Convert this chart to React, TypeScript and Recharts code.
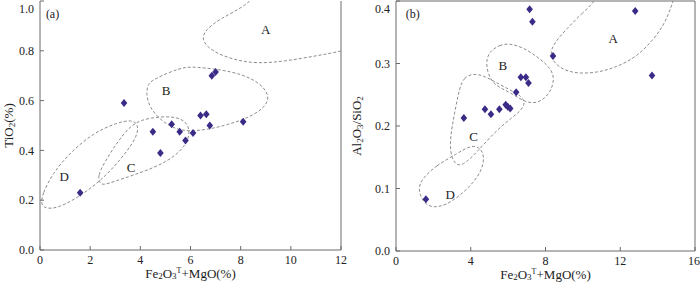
import React from 'react';
import { ComposedChart, Scatter, Line, XAxis, YAxis, ReferenceLine, ReferenceDot } from 'recharts';

// (a) TiO2 vs Fe2O3T+MgO
const tiSamples = [
  { x: 1.6, y: 0.23 }, { x: 3.35, y: 0.59 }, { x: 4.5, y: 0.475 }, { x: 4.8, y: 0.39 },
  { x: 5.25, y: 0.505 }, { x: 5.57, y: 0.475 }, { x: 5.8, y: 0.44 }, { x: 6.1, y: 0.47 },
  { x: 6.4, y: 0.54 }, { x: 6.63, y: 0.545 }, { x: 6.77, y: 0.5 }, { x: 6.85, y: 0.7 },
  { x: 7.0, y: 0.715 }, { x: 8.1, y: 0.515 },
];

// (b) Al2O3/SiO2 vs Fe2O3T+MgO
const alSamples = [
  { x: 1.6, y: 0.083 }, { x: 3.63, y: 0.213 }, { x: 4.76, y: 0.227 }, { x: 5.08, y: 0.219 },
  { x: 5.53, y: 0.227 }, { x: 5.87, y: 0.234 }, { x: 5.98, y: 0.231 }, { x: 6.11, y: 0.228 },
  { x: 6.43, y: 0.254 }, { x: 6.68, y: 0.278 }, { x: 6.95, y: 0.278 }, { x: 7.09, y: 0.269 },
  { x: 7.15, y: 0.387 }, { x: 7.3, y: 0.367 }, { x: 8.4, y: 0.312 }, { x: 12.8, y: 0.384 },
  { x: 13.7, y: 0.281 },
];

// field outlines, panel (a)
const tiFieldA = [
  { x: 13.0, y: 0.83 }, { x: 12.0, y: 0.797 }, { x: 11.0, y: 0.78 }, { x: 9.8, y: 0.758 },
  { x: 8.6, y: 0.748 }, { x: 7.7, y: 0.765 }, { x: 6.9, y: 0.795 }, { x: 6.42, y: 0.842 },
  { x: 6.6, y: 0.885 }, { x: 7.2, y: 0.93 }, { x: 8.2, y: 0.98 }, { x: 8.9, y: 1.05 },
  { x: 10, y: 1.2 }, { x: 13.5, y: 1.2 },
];
const tiFieldB = [
  { x: 4.47, y: 0.684 }, { x: 5.6, y: 0.733 }, { x: 6.13, y: 0.737 }, { x: 7.73, y: 0.718 },
  { x: 8.7, y: 0.678 }, { x: 9.18, y: 0.621 }, { x: 8.97, y: 0.571 }, { x: 8.27, y: 0.529 },
  { x: 7.47, y: 0.503 }, { x: 6.67, y: 0.483 }, { x: 5.87, y: 0.476 }, { x: 5.3, y: 0.489 },
  { x: 4.77, y: 0.525 }, { x: 4.36, y: 0.574 }, { x: 4.23, y: 0.628 }, { x: 4.3, y: 0.663 },
];
const tiFieldC = [
  { x: 2.38, y: 0.268 }, { x: 2.3, y: 0.298 }, { x: 2.58, y: 0.354 }, { x: 3.05, y: 0.428 },
  { x: 3.52, y: 0.49 }, { x: 4.0, y: 0.524 }, { x: 4.93, y: 0.538 }, { x: 5.62, y: 0.531 },
  { x: 5.93, y: 0.5 }, { x: 5.96, y: 0.458 }, { x: 5.76, y: 0.416 }, { x: 5.35, y: 0.375 },
  { x: 4.67, y: 0.335 }, { x: 3.73, y: 0.301 }, { x: 2.93, y: 0.274 }, { x: 2.53, y: 0.261 },
];
const tiFieldD = [
  { x: 0.03, y: 0.182 }, { x: 0.1, y: 0.226 }, { x: 0.5, y: 0.307 }, { x: 1.18, y: 0.389 },
  { x: 2.12, y: 0.47 }, { x: 3.06, y: 0.511 }, { x: 3.68, y: 0.524 }, { x: 3.93, y: 0.501 },
  { x: 3.87, y: 0.458 }, { x: 3.48, y: 0.397 }, { x: 2.8, y: 0.316 }, { x: 2.13, y: 0.255 },
  { x: 1.33, y: 0.2 }, { x: 0.67, y: 0.168 }, { x: 0.25, y: 0.166 },
];

// field outlines, panel (b)
const alFieldA = [
  { x: 10.82, y: 0.403 }, { x: 10.0, y: 0.382 }, { x: 9.12, y: 0.355 }, { x: 8.47, y: 0.333 },
  { x: 8.24, y: 0.317 }, { x: 8.42, y: 0.302 }, { x: 8.94, y: 0.29 }, { x: 9.66, y: 0.284 },
  { x: 10.73, y: 0.285 }, { x: 11.8, y: 0.294 }, { x: 12.9, y: 0.311 }, { x: 13.8, y: 0.339 },
  { x: 14.43, y: 0.366 }, { x: 14.88, y: 0.403 }, { x: 15.3, y: 0.45 }, { x: 11.2, y: 0.45 },
];
const alFieldB = [
  { x: 5.0, y: 0.319 }, { x: 5.55, y: 0.33 }, { x: 6.08, y: 0.332 }, { x: 6.8, y: 0.326 },
  { x: 7.7, y: 0.308 }, { x: 8.32, y: 0.291 }, { x: 8.48, y: 0.274 }, { x: 8.26, y: 0.254 },
  { x: 7.8, y: 0.24 }, { x: 7.33, y: 0.236 }, { x: 6.8, y: 0.24 }, { x: 6.26, y: 0.251 },
  { x: 5.64, y: 0.26 }, { x: 5.13, y: 0.27 }, { x: 4.88, y: 0.288 }, { x: 4.83, y: 0.305 },
];
const alFieldC = [
  { x: 4.12, y: 0.284 }, { x: 3.65, y: 0.278 }, { x: 3.41, y: 0.262 }, { x: 3.2, y: 0.231 },
  { x: 3.0, y: 0.199 }, { x: 2.88, y: 0.172 }, { x: 2.97, y: 0.148 }, { x: 3.31, y: 0.135 },
  { x: 3.74, y: 0.141 }, { x: 4.32, y: 0.158 }, { x: 5.03, y: 0.182 }, { x: 5.83, y: 0.205 },
  { x: 6.56, y: 0.221 }, { x: 6.94, y: 0.235 }, { x: 6.73, y: 0.248 }, { x: 6.08, y: 0.258 },
  { x: 5.28, y: 0.271 }, { x: 4.65, y: 0.281 },
];
const alFieldD = [
  { x: 1.33, y: 0.114 }, { x: 2.15, y: 0.137 }, { x: 3.23, y: 0.155 }, { x: 4.03, y: 0.17 },
  { x: 4.54, y: 0.165 }, { x: 4.73, y: 0.15 }, { x: 4.6, y: 0.13 }, { x: 4.14, y: 0.109 },
  { x: 3.4, y: 0.088 }, { x: 2.69, y: 0.074 }, { x: 2.06, y: 0.069 }, { x: 1.5, y: 0.075 },
  { x: 1.18, y: 0.097 },
];

const tiRegionLabels = [
  { x: 9.0, y: 0.887, text: 'A' }, { x: 5.03, y: 0.641, text: 'B' },
  { x: 3.63, y: 0.332, text: 'C' }, { x: 0.96, y: 0.294, text: 'D' },
];
const alRegionLabels = [
  { x: 11.62, y: 0.34, text: 'A' }, { x: 5.72, y: 0.297, text: 'B' },
  { x: 4.15, y: 0.184, text: 'C' }, { x: 2.9, y: 0.09, text: 'D' },
];

const tiXTicks = [0, 2, 4, 6, 8, 10, 12];
const tiYTicks = [0, 0.2, 0.4, 0.6, 0.8, 1.0];
const alXTicks = [0, 4, 8, 12, 16];
const alYTicks = [0, 0.1, 0.2, 0.3, 0.4];

const FONT = '"Liberation Serif", "DejaVu Serif", serif';
const AXIS = '#6a6a6a';
const FIELD = '#8c8c8c';
const DOT = '#3b2a86';

const Diamond = (props: any) => {
  const { cx, cy } = props;
  if (cx == null || cy == null) return null;
  return <polygon points={`${cx},${cy - 4} ${cx + 3.3},${cy} ${cx},${cy + 4} ${cx - 3.3},${cy}`} fill={DOT} />;
};

const YTick = (props: any) => {
  const { x, y, payload } = props;
  const yy = Math.max(y, 6);
  return (
    <text x={x} y={yy} dy="0.35em" textAnchor="end" fontSize={12} fontFamily={FONT} fill="#222">
      {Number(payload.value).toFixed(1)}
    </text>
  );
};

const XTitle = ({ viewBox }: any) => {
  const { x, y, width } = viewBox;
  return (
    <text x={x + width / 2} y={y + 28} textAnchor="middle" fontSize={13} fontFamily={FONT} fill="#222">
      Fe<tspan fontSize={9} dy={1}>2</tspan>
      <tspan dy={-1}>O</tspan>
      <tspan fontSize={9} dy={1}>3</tspan>
      <tspan fontSize={8} dy={-6}>T</tspan>
      <tspan dy={5}>+MgO(%)</tspan>
    </text>
  );
};

const TiTitle = ({ viewBox }: any) => {
  const { y, height } = viewBox;
  const cx = 8;
  const cy = y + height / 2;
  return (
    <text x={cx} y={cy} transform={`rotate(-90, ${cx}, ${cy})`} textAnchor="middle" dy="0.35em" fontSize={13} fontFamily={FONT} fill="#222">
      TiO<tspan fontSize={9} dy={2}>2</tspan>
      <tspan dy={-2}>(%)</tspan>
    </text>
  );
};

const AlTitle = ({ viewBox }: any) => {
  const { x, y, height } = viewBox;
  const cx = x + 6;
  const cy = y + height / 2;
  return (
    <text x={cx} y={cy} transform={`rotate(-90, ${cx}, ${cy})`} textAnchor="middle" dy="0.35em" fontSize={13} fontFamily={FONT} fill="#222">
      Al<tspan fontSize={9} dy={2}>2</tspan>
      <tspan dy={-2}>O</tspan>
      <tspan fontSize={9} dy={2}>3</tspan>
      <tspan dy={-2}>/SiO</tspan>
      <tspan fontSize={9} dy={2}>2</tspan>
    </text>
  );
};

const fieldLine = (data: { x: number; y: number }[], key: string) => (
  <Line
    key={key}
    data={data}
    dataKey="y"
    type="basisClosed"
    stroke={FIELD}
    strokeWidth={1}
    strokeDasharray="3 2"
    dot={false}
    activeDot={false}
    isAnimationActive={false}
  />
);

const regionLabel = (l: { x: number; y: number; text: string }) => (
  <ReferenceDot
    key={l.text}
    x={l.x}
    y={l.y}
    r={1}
    fill="none"
    stroke="none"
    label={{ value: l.text, position: 'center', fontSize: 13, fill: '#222', fontFamily: FONT }}
  />
);

const tickStyle = { fontSize: 12, fill: '#222', fontFamily: FONT };

export default function App() {
  return (
    <div style={{ position: 'absolute', left: 0, top: 0, width: 700, height: 284, background: '#fff', fontFamily: FONT }}>
      <div style={{ position: 'absolute', left: 0, top: 0 }}>
        <ComposedChart width={350} height={284} margin={{ top: 1, right: 9, bottom: 0, left: 0 }}>
          <XAxis
            type="number"
            dataKey="x"
            domain={[0, 12]}
            ticks={tiXTicks}
            allowDataOverflow
            height={34}
            tickSize={-4}
            tickMargin={9}
            stroke={AXIS}
            tick={tickStyle}
            label={<XTitle />}
          />
          <YAxis
            type="number"
            dataKey="y"
            domain={[0, 1]}
            ticks={tiYTicks}
            allowDataOverflow
            width={40}
            tickSize={-4}
            tickMargin={10}
            stroke={AXIS}
            tick={<YTick />}
            label={<TiTitle />}
          />
          <ReferenceLine x={12} stroke={AXIS} />
          {fieldLine(tiFieldA, 'A')}
          {fieldLine(tiFieldB, 'B')}
          {fieldLine(tiFieldC, 'C')}
          {fieldLine(tiFieldD, 'D')}
          {tiRegionLabels.map(regionLabel)}
          <ReferenceDot x={0.5} y={0.95} r={1} fill="none" stroke="none"
            label={{ value: '(a)', position: 'center', fontSize: 12, fill: '#222', fontFamily: FONT }} />
          <Scatter data={tiSamples} shape={<Diamond />} isAnimationActive={false} />
        </ComposedChart>
      </div>
      <div style={{ position: 'absolute', left: 350, top: 0 }}>
        <ComposedChart width={350} height={284} margin={{ top: 1, right: 5, bottom: 0, left: 0 }}>
          <XAxis
            type="number"
            dataKey="x"
            domain={[0, 16]}
            ticks={alXTicks}
            allowDataOverflow
            height={33}
            tickSize={-4}
            tickMargin={9}
            stroke={AXIS}
            tick={tickStyle}
            label={<XTitle />}
          />
          <YAxis
            type="number"
            dataKey="y"
            domain={[0, 0.4]}
            ticks={alYTicks}
            allowDataOverflow
            width={46}
            tickSize={-4}
            tickMargin={10}
            stroke={AXIS}
            tick={<YTick />}
            label={<AlTitle />}
          />
          <ReferenceLine x={16} stroke={AXIS} />
          <ReferenceLine y={0.4} stroke={AXIS} />
          {fieldLine(alFieldA, 'A')}
          {fieldLine(alFieldB, 'B')}
          {fieldLine(alFieldC, 'C')}
          {fieldLine(alFieldD, 'D')}
          {alRegionLabels.map(regionLabel)}
          <ReferenceDot x={0.9} y={0.38} r={1} fill="none" stroke="none"
            label={{ value: '(b)', position: 'center', fontSize: 12, fill: '#222', fontFamily: FONT }} />
          <Scatter data={alSamples} shape={<Diamond />} isAnimationActive={false} />
        </ComposedChart>
      </div>
    </div>
  );
}
